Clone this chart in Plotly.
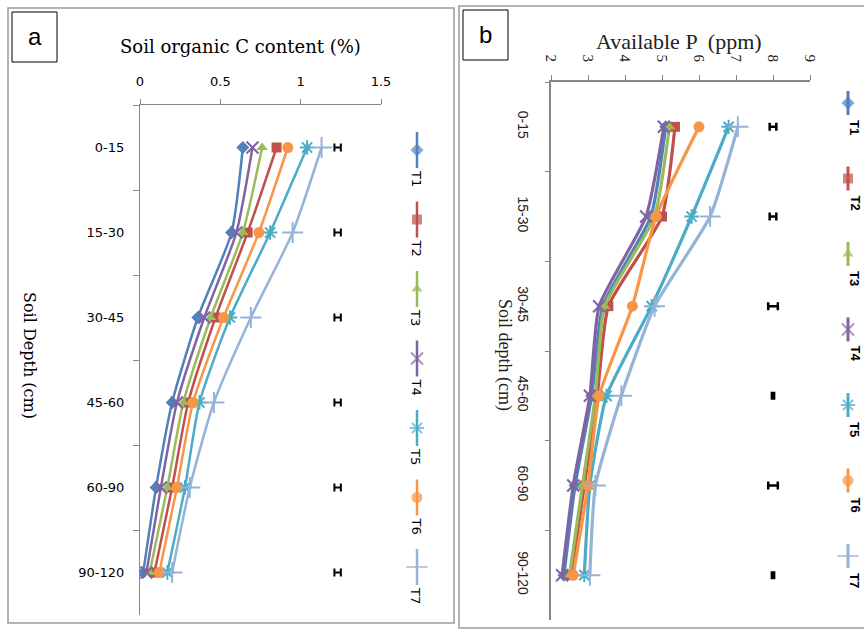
import plotly.graph_objects as go

W, H = 864, 631

depths = ["0-15", "15-30", "30-45", "45-60", "60-90", "90-120"]
treatments = ["T1", "T2", "T3", "T4", "T5", "T6", "T7"]

# Panel a: Soil organic C content (%)
soc_T1 = [0.64, 0.57, 0.36, 0.20, 0.10, 0.02]
soc_T2 = [0.85, 0.67, 0.47, 0.30, 0.20, 0.09]
soc_T3 = [0.76, 0.64, 0.44, 0.27, 0.17, 0.06]
soc_T4 = [0.70, 0.60, 0.40, 0.23, 0.13, 0.04]
soc_T5 = [1.04, 0.81, 0.56, 0.37, 0.28, 0.17]
soc_T6 = [0.92, 0.74, 0.52, 0.33, 0.23, 0.12]
soc_T7 = [1.13, 0.95, 0.69, 0.46, 0.31, 0.20]
soc_lsd_pos = [1.23, 1.23, 1.23, 1.23, 1.23, 1.23]
soc_lsd = [0.02, 0.02, 0.02, 0.02, 0.02, 0.02]

# Panel b: Available P (ppm)
p_T1 = [5.10, 4.70, 3.40, 3.10, 2.65, 2.35]
p_T2 = [5.35, 5.00, 3.55, 3.25, 2.90, 2.55]
p_T3 = [5.20, 4.80, 3.45, 3.20, 2.85, 2.50]
p_T4 = [5.05, 4.57, 3.30, 3.05, 2.60, 2.30]
p_T5 = [6.80, 5.80, 4.72, 3.50, 3.05, 2.90]
p_T6 = [6.00, 4.84, 4.20, 3.30, 3.00, 2.60]
p_T7 = [7.05, 6.30, 4.80, 3.90, 3.20, 3.05]
p_lsd_pos = [8, 8, 8, 8, 8, 8]
p_lsd = [0.09, 0.09, 0.13, 0.03, 0.13, 0.03]

soc = [soc_T1, soc_T2, soc_T3, soc_T4, soc_T5, soc_T6, soc_T7]
avp = [p_T1, p_T2, p_T3, p_T4, p_T5, p_T6, p_T7]

colors = ["#4F81BD", "#C0504D", "#9BBB59", "#8064A2", "#4BACC6", "#F79646", "#95B3D7"]
symbols = ["diamond", "square", "triangle-up", "x-thin-open", "asterisk-open", "circle", "cross-thin-open"]
msizes = [10, 10, 10, 12, 12, 11, 15]


def px(x):
    return x / W


def py(y):
    return 1 - y / H


def marker_for(i, size=None):
    s = size if size is not None else msizes[i]
    thin = symbols[i].endswith("-open")
    return dict(symbol=symbols[i], size=s, color=colors[i],
                line=dict(color=colors[i], width=2 if thin else 0))


def note(x, y, text, size, family, angle=0, color="black"):
    return dict(x=px(x), y=py(y), xref="paper", yref="paper", text=text, showarrow=False,
                xanchor="center", yanchor="middle", textangle=angle,
                font=dict(family=family, size=size, color=color))


fig = go.Figure()

# Panel a traces
for i, t in enumerate(treatments):
    fig.add_trace(go.Scatter(x=soc[i], y=depths, mode="lines+markers", name=t,
                             line=dict(color=colors[i], width=2.5, shape="spline", smoothing=0.6),
                             marker=marker_for(i), xaxis="x", yaxis="y", showlegend=False))
fig.add_trace(go.Scatter(x=soc_lsd_pos, y=depths, mode="markers",
                         marker=dict(size=1, color="rgba(0,0,0,0)"),
                         error_x=dict(type="data", array=soc_lsd, color="black", thickness=2, width=4),
                         xaxis="x", yaxis="y", showlegend=False))

# Panel b traces
for i, t in enumerate(treatments):
    fig.add_trace(go.Scatter(x=avp[i], y=depths, mode="lines+markers", name=t,
                             line=dict(color=colors[i], width=3.2, shape="spline", smoothing=0.5),
                             marker=marker_for(i), xaxis="x2", yaxis="y2", showlegend=False))
fig.add_trace(go.Scatter(x=p_lsd_pos, y=depths, mode="markers",
                         marker=dict(size=1, color="rgba(0,0,0,0)"),
                         error_x=dict(type="data", array=p_lsd, color="black", thickness=2.5, width=4),
                         xaxis="x2", yaxis="y2", showlegend=False))

annotations = []
# Manual legends on a pixel overlay axis
for i, t in enumerate(treatments):
    ya = 150 + i * 69.5
    fig.add_trace(go.Scatter(x=[417, 417, 417], y=[ya - 18, ya, ya + 18], mode="lines+markers",
                             line=dict(color=colors[i], width=2.5),
                             marker=dict(symbol=symbols[i], size=[0, msizes[i], 0], color=colors[i],
                                         line=dict(color=colors[i], width=2 if symbols[i].endswith("-open") else 0)),
                             xaxis="x3", yaxis="y3", showlegend=False, hoverinfo="skip"))
    annotations.append(note(416, ya + 28, t, 13, "DejaVu Sans", 90))
    yb = 103 + i * 75.5
    fig.add_trace(go.Scatter(x=[848, 848, 848], y=[yb - 12, yb, yb + 12], mode="lines+markers",
                             line=dict(color=colors[i], width=3),
                             marker=dict(symbol=symbols[i], size=[0, msizes[i], 0], color=colors[i],
                                         line=dict(color=colors[i], width=2 if symbols[i].endswith("-open") else 0)),
                             xaxis="x3", yaxis="y3", showlegend=False, hoverinfo="skip"))
    annotations.append(note(855, yb + 24, "<b>" + t + "</b>", 13, "Liberation Sans", 90))

# Titles
annotations += [
    note(240, 46, "Soil organic C content (%)", 18, "DejaVu Serif"),
    note(30, 355, "Soil Depth (cm)", 16, "DejaVu Serif", 90),
    note(679, 41, "Available P  (ppm)", 22, "Liberation Serif", 0, "#222"),
    note(505, 355, "Soil depth (cm)", 18, "Liberation Serif", 90, "#222"),
    note(34.5, 36, "a", 24, "Liberation Sans"),
    note(485.5, 34, "b", 24, "Liberation Sans"),
]

shapes = [
    dict(type="rect", xref="paper", yref="paper", x0=px(8), y0=py(8), x1=px(454), y1=py(623),
         line=dict(color="#9a9a9a", width=1.5)),
    dict(type="rect", xref="paper", yref="paper", x0=px(459), y0=py(6), x1=px(880), y1=py(628),
         line=dict(color="#9a9a9a", width=1.5)),
    dict(type="rect", xref="paper", yref="paper", x0=px(12), y0=py(12), x1=px(57), y1=py(62),
         line=dict(color="black", width=1)),
    dict(type="rect", xref="paper", yref="paper", x0=px(463), y0=py(10), x1=px(508), y1=py(60),
         line=dict(color="black", width=1)),
]

axis_gray = "#868686"
fig.update_layout(
    width=W, height=H, autosize=False,
    margin=dict(l=0, r=0, t=0, b=0, pad=0, autoexpand=False),
    paper_bgcolor="white", plot_bgcolor="rgba(0,0,0,0)",
    showlegend=False,
    xaxis=dict(domain=[px(140), px(381)], range=[0, 1.5], dtick=0.5, side="top", anchor="y",
               showline=True, linecolor=axis_gray, linewidth=1.2, ticks="outside", ticklen=5,
               tickcolor=axis_gray, showgrid=False, zeroline=False, ticklabelstandoff=8, automargin=False,
               tickfont=dict(family="DejaVu Sans", size=13, color="black")),
    yaxis=dict(domain=[py(615), py(105)], type="category", categoryorder="array", categoryarray=depths,
               range=[5.5, -0.5], anchor="x", showline=True, linecolor=axis_gray, linewidth=1.2,
               ticks="outside", ticklen=6, tickcolor=axis_gray, tickson="boundaries",
               showgrid=False, zeroline=False, ticklabelstandoff=12, automargin=False,
               tickfont=dict(family="DejaVu Sans", size=13, color="black")),
    xaxis2=dict(domain=[px(551), px(810)], range=[2, 9], dtick=1, side="top", anchor="y2",
                showline=True, linecolor=axis_gray, linewidth=1.5, ticks="outside", ticklen=5,
                tickcolor=axis_gray, showgrid=False, zeroline=False, tickangle=90, ticklabelstandoff=8,
                automargin=False,
                tickfont=dict(family="Liberation Serif", size=15, color="#222")),
    yaxis2=dict(domain=[py(620), py(82)], type="category", categoryorder="array", categoryarray=depths,
                range=[5.5, -0.5], anchor="x2", showline=True, linecolor=axis_gray, linewidth=1.5,
                ticks="outside", ticklen=4, tickcolor=axis_gray, tickson="boundaries",
                showgrid=False, zeroline=False, tickangle=90, ticklabelstandoff=14, automargin=False,
                tickfont=dict(family="Liberation Sans", size=14, color="#222")),
    xaxis3=dict(domain=[0, 1], range=[0, W], visible=False, anchor="y3", fixedrange=True, automargin=False),
    yaxis3=dict(domain=[0, 1], range=[H, 0], visible=False, anchor="x3", fixedrange=True, automargin=False),
    annotations=annotations,
    shapes=shapes,
)

fig.write_html("out.html")
